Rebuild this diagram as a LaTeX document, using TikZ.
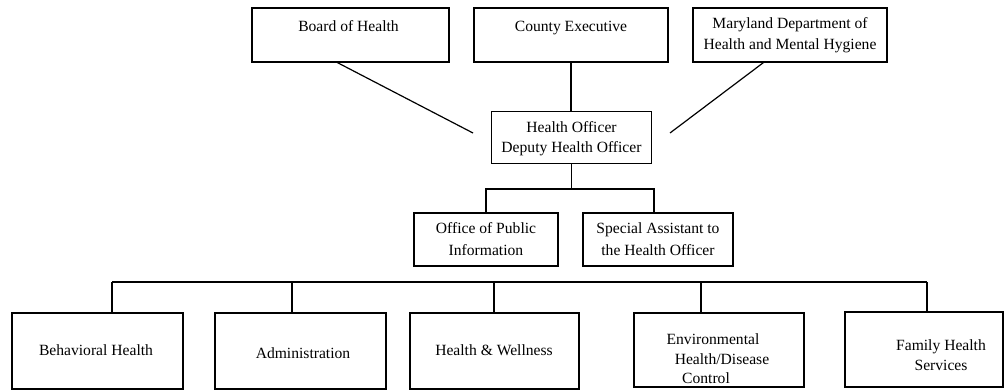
\documentclass[tikz,border=0pt]{standalone}
\usepackage{fontspec}
\setmainfont{Liberation Serif}
\usetikzlibrary{calc}
\begin{document}
\begin{tikzpicture}[x=1pt,y=-1pt,
  box/.style={draw, line width=1.2pt, inner sep=0pt, rectangle},
  lbl/.style={anchor=base, inner sep=0pt, font=\fontsize{15.6}{20}\selectfont},
  conn/.style={line width=1.2pt}]
\useasboundingbox (0,0) rectangle (1005,389);
% top row
\node[box, minimum width=197pt, minimum height=54pt] (boh) at (350.5,35) {};
\node[box, minimum width=194pt, minimum height=54pt] (ce) at (571,35) {};
\node[box, minimum width=194pt, minimum height=54pt] (md) at (790,35) {};
\node[lbl] (tboh) at (348.5,31) {Board of Health};
\node[lbl] (tce) at (571,31) {County Executive};
\node[lbl] (tmd1) at (790,28) {Maryland Department of};
\node[lbl] (tmd2) at (790,49) {Health and Mental Hygiene};
% health officer
\node[box, minimum width=160pt, minimum height=52pt] (ho) at (571.5,137.5) {};
\node[lbl] (tho1) at (571.5,132) {Health Officer};
\node[lbl] (tho2) at (571.5,152) {Deputy Health Officer};
% second row
\node[box, minimum width=144pt, minimum height=53pt] (opi) at (486,239.5) {};
\node[box, minimum width=150pt, minimum height=53pt] (sa) at (658,239.5) {};
\node[lbl] (topi1) at (486,233) {Office of Public};
\node[lbl] (topi2) at (486,255) {Information};
\node[lbl] (tsa1) at (658,233) {Special Assistant to};
\node[lbl] (tsa2) at (658,255) {the Health Officer};
% bottom row
\node[box, minimum width=171pt, minimum height=76pt] (bh) at (97.5,351) {};
\node[box, minimum width=171pt, minimum height=76pt] (adm) at (300.5,351) {};
\node[box, minimum width=169pt, minimum height=76pt] (hw) at (494.5,351) {};
\node[box, minimum width=170pt, minimum height=74pt] (env) at (719,350) {};
\node[box, minimum width=158pt, minimum height=75pt] (fhs) at (924,349.5) {};
\node[lbl] (tbh) at (96,355) {Behavioral Health};
\node[lbl] (tadm) at (303,358) {Administration};
\node[lbl] (thw) at (494,355) {Health \& Wellness};
\node[lbl] (tenv1) at (713,344) {Environmental};
\node[lbl] (tenv2) at (722,364) {Health/Disease};
\node[lbl] (tenv3) at (706,383) {Control};
\node[lbl] (tfhs1) at (941,350) {Family Health};
\node[lbl] (tfhs2) at (941,370) {Services};
% connectors top
\coordinate (bend) at (473,133);
\coordinate (mend) at (670,133);
\draw[conn] ($(boh.south west)+(86,0)$) -- (bend);
\draw[conn] ($(md.south west)+(71,0)$) -- (mend);
\draw[conn] (ce.south) -- (ce.south |- ho.north);
% to second row
\coordinate (hj) at (571.5,189);
\coordinate (o1) at (486,189);
\coordinate (o2) at (654,189);
\draw[conn] (ho.south) -- (hj);
\draw[conn] (opi.north) -- (o1) -- (o2) -- (o2 |- sa.north);
% bus to bottom row
\coordinate (b1) at (112,282);
\coordinate (b2) at (292,282);
\coordinate (b3) at (494,282);
\coordinate (b4) at (701,282);
\coordinate (b5) at (927,282);
\draw[conn] (b1) -- (b5);
\draw[conn] (b1) -- (b1 |- bh.north);
\draw[conn] (b2) -- (b2 |- adm.north);
\draw[conn] (b3) -- (b3 |- hw.north);
\draw[conn] (b4) -- (b4 |- env.north);
\draw[conn] (b5) -- (b5 |- fhs.north);
\end{tikzpicture}
\end{document}
